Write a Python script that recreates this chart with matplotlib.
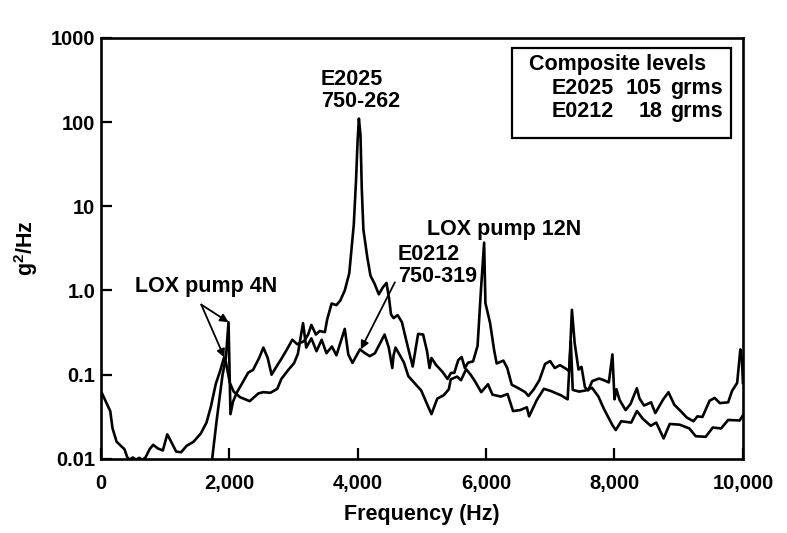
import numpy as np
import matplotlib
matplotlib.use("Agg")
import matplotlib.pyplot as plt
from matplotlib.patches import Rectangle

plt.rcParams['font.family'] = ['Liberation Sans', 'DejaVu Sans']
plt.rcParams['font.weight'] = 'bold'
plt.rcParams['mathtext.fontset'] = 'custom'
plt.rcParams['mathtext.rm'] = 'Liberation Sans:bold'
plt.rcParams['mathtext.it'] = 'Liberation Sans:bold'
plt.rcParams['mathtext.bf'] = 'Liberation Sans:bold'

# E2025 (750-262) spectrum
freq_e2025 = [1720, 1806, 1897, 1948, 1990, 2020, 2060, 2122, 2210, 2297, 2372, 2470, 2532,
              2600, 2660, 2748, 2810, 2900, 2983, 3060, 3166, 3230, 3280, 3350, 3410, 3490,
              3525, 3595, 3670, 3730, 3800, 3870, 3940, 3975, 4000, 4020, 4045, 4065, 4090,
              4150, 4200, 4265, 4330, 4390, 4450, 4490, 4520, 4560, 4623, 4690, 4755, 4858,
              4942, 5020, 5081, 5120, 5151, 5220, 5326, 5400, 5453, 5505, 5567, 5620, 5670,
              5720, 5798, 5868, 5920, 5970, 5990, 6063, 6125, 6165, 6270, 6330, 6400, 6506,
              6610, 6660, 6743, 6830, 6919, 6998, 7070, 7150, 7250, 7295, 7337, 7380, 7440,
              7486, 7540, 7590, 7653, 7760, 7836, 7912, 7968, 8000, 8030, 8080, 8173, 8250,
              8348, 8390, 8461, 8569, 8636, 8752, 8840, 8931, 9030, 9126, 9230, 9290, 9370,
              9480, 9560, 9640, 9770, 9830, 9910, 9960, 9985, 10000]
psd_e2025 = [0.008, 0.029, 0.10, 0.157, 0.42, 0.034, 0.048, 0.062, 0.081, 0.106, 0.114, 0.16, 0.21,
             0.158, 0.10, 0.129, 0.153, 0.20, 0.26, 0.23, 0.25, 0.30, 0.39, 0.30, 0.33, 0.32,
             0.45, 0.70, 0.67, 0.76, 1.0, 1.6, 6.0, 20, 60, 110, 70, 16, 5.3,
             2.5, 1.5, 1.2, 0.9, 1.08, 1.23, 0.8, 0.52, 0.47, 0.51, 0.42, 0.26, 0.125,
             0.305, 0.30, 0.19, 0.12, 0.158, 0.131, 0.107, 0.089, 0.105, 0.105, 0.149, 0.162, 0.12,
             0.139, 0.144, 0.22, 1.0, 3.7, 0.71, 0.41, 0.197, 0.136, 0.147, 0.12, 0.076, 0.069,
             0.062, 0.056, 0.067, 0.086, 0.134, 0.145, 0.12, 0.13, 0.117, 0.11, 0.59, 0.237, 0.115,
             0.124, 0.071, 0.065, 0.084, 0.09, 0.086, 0.081, 0.174, 0.051, 0.067, 0.05, 0.038, 0.045,
             0.069, 0.052, 0.043, 0.047, 0.035, 0.05, 0.062, 0.044, 0.037, 0.031, 0.028, 0.032, 0.0315,
             0.049, 0.053, 0.046, 0.047, 0.064, 0.08, 0.20, 0.15, 0.08]

# E0212 (750-319) spectrum
freq_e0212 = [20, 148, 184, 247, 370, 412, 450, 500, 550, 600, 650, 700, 760, 816, 890, 967,
              1036, 1106, 1175, 1252, 1337, 1445, 1557, 1647, 1716, 1792, 1858, 1920, 1950,
              2010, 2070, 2170, 2320, 2455, 2530, 2642, 2750, 2812, 2925, 3010, 3070, 3150,
              3200, 3280, 3360, 3440, 3515, 3600, 3670, 3800, 3855, 3920, 4036, 4115, 4190,
              4270, 4420, 4485, 4540, 4560, 4590, 4640, 4720, 4790, 4890, 4990, 5080, 5150,
              5240, 5340, 5420, 5450, 5550, 5610, 5650, 5690, 5760, 5830, 5925, 6030, 6100,
              6230, 6335, 6420, 6530, 6635, 6670, 6790, 6900, 7010, 7165, 7270, 7320, 7350,
              7450, 7550, 7650, 7750, 7830, 7970, 8020, 8105, 8260, 8350, 8440, 8565, 8650,
              8765, 8860, 9015, 9165, 9265, 9420, 9530, 9660, 9770, 9950, 10000]
psd_e0212 = [0.06, 0.037, 0.023, 0.016, 0.013, 0.0105, 0.0098, 0.0104, 0.0098, 0.0103, 0.0097,
             0.0105, 0.013, 0.0147, 0.0133, 0.0126, 0.0196, 0.0155, 0.0122, 0.012, 0.0143, 0.016,
             0.02, 0.027, 0.042, 0.078, 0.11, 0.16, 0.14, 0.08, 0.063, 0.054, 0.0485, 0.06,
             0.062, 0.061, 0.068, 0.089, 0.115, 0.137, 0.177, 0.41, 0.21, 0.27, 0.19, 0.26,
             0.18, 0.216, 0.17, 0.35, 0.174, 0.138, 0.2, 0.18, 0.166, 0.18, 0.3, 0.21, 0.12,
             0.17, 0.21, 0.18, 0.14, 0.096, 0.079, 0.065, 0.045, 0.034, 0.052, 0.057, 0.067,
             0.088, 0.095, 0.086, 0.1, 0.116, 0.1, 0.083, 0.062, 0.077, 0.058, 0.055, 0.059,
             0.037, 0.038, 0.041, 0.032, 0.05, 0.068, 0.064, 0.057, 0.051, 0.25, 0.066, 0.063,
             0.065, 0.07, 0.055, 0.04, 0.025, 0.022, 0.028, 0.027, 0.037, 0.03, 0.0247, 0.027,
             0.0175, 0.026, 0.0255, 0.023, 0.0186, 0.0183, 0.0236, 0.023, 0.029, 0.0286, 0.033]

yticks = [0.01, 0.1, 1, 10, 100, 1000]
ytick_labels = ['0.01', '0.1', '1.0', '10', '100', '1000']
xticks = [0, 2000, 4000, 6000, 8000, 10000]
xtick_labels = ['0', '2,000', '4,000', '6,000', '8,000', '10,000']

fig = plt.figure(figsize=(7.87, 5.33), dpi=100)
ax = fig.add_axes([0.128, 0.139, 0.816, 0.790])

ax.plot(freq_e2025, psd_e2025, color='black', lw=1.9)
ax.plot(freq_e0212, psd_e0212, color='black', lw=1.9)

ax.set_yscale('log')
ax.set_xlim(0, 10000)
ax.set_ylim(0.01, 1000)
ax.set_yticks(yticks)
ax.set_yticklabels(ytick_labels)
ax.set_xticks(xticks)
ax.set_xticklabels(xtick_labels)
ax.minorticks_off()
ax.tick_params(direction='in', length=8, width=1.6, labelsize=14.5)
ax.tick_params(axis='x', pad=11)
ax.tick_params(axis='y', pad=4)
for s in ax.spines.values():
    s.set_linewidth(1.9)

ax.set_xlabel('Frequency (Hz)', fontsize=15.5, fontweight='bold', labelpad=8)
ax.set_ylabel(r'g$^2$/Hz', fontsize=15.5, fontweight='bold', labelpad=8)

tfont = dict(fontsize=15.5, fontweight='bold')
arrow = dict(arrowstyle='-|>', color='black', lw=1.3, mutation_scale=12,
             shrinkA=0, shrinkB=0)

ax.text(3430, 235, 'E2025\n750-262', ha='left', va='center', linespacing=1.05, **tfont)
ax.text(4630, 2.0, 'E0212\n750-319', ha='left', va='center', linespacing=1.05, **tfont)
ax.annotate('', xy=(4050, 0.2), xytext=(4580, 1.25), arrowprops=arrow)

ax.text(540, 1.1, 'LOX pump 4N', ha='left', va='center', **tfont)
ax.annotate('', xy=(1990, 0.42), xytext=(1565, 0.68), arrowprops=arrow)
ax.annotate('', xy=(1925, 0.16), xytext=(1565, 0.68), arrowprops=arrow)

ax.text(5080, 5.3, 'LOX pump 12N', ha='left', va='center', **tfont)

# composite levels box
ax.add_patch(Rectangle((0.641, 0.763), 0.341, 0.212, transform=ax.transAxes,
                       facecolor='white', edgecolor='black', lw=1.6, zorder=3))
ax.text(0.667, 0.936, 'Composite levels', transform=ax.transAxes, ha='left', va='center',
        zorder=4, **tfont)
ax.text(0.702, 0.879, 'E2025', transform=ax.transAxes, ha='left', va='center', zorder=4, **tfont)
ax.text(0.874, 0.879, '105', transform=ax.transAxes, ha='right', va='center', zorder=4, **tfont)
ax.text(0.886, 0.879, 'grms', transform=ax.transAxes, ha='left', va='center', zorder=4, **tfont)
ax.text(0.702, 0.824, 'E0212', transform=ax.transAxes, ha='left', va='center', zorder=4, **tfont)
ax.text(0.874, 0.824, '18', transform=ax.transAxes, ha='right', va='center', zorder=4, **tfont)
ax.text(0.886, 0.824, 'grms', transform=ax.transAxes, ha='left', va='center', zorder=4, **tfont)

fig.savefig('out.png', dpi=100)
